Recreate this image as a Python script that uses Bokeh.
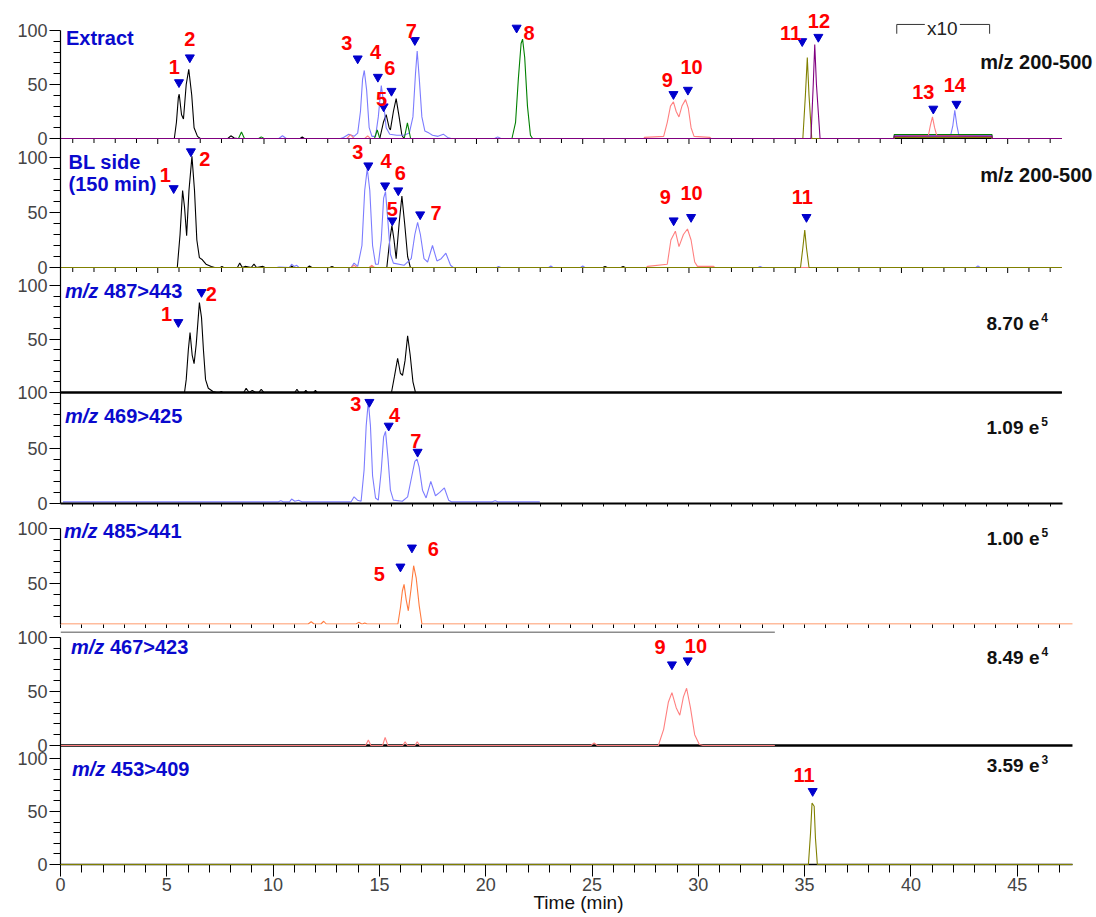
from bokeh.plotting import figure
from bokeh.layouts import column
from bokeh.models import Range1d, FixedTicker, CustomJSTickFormatter
from bokeh.core.properties import value
from bokeh.embed import file_html
from bokeh.resources import INLINE

# ----------------------------------------------------------------- data
TIME_TICKS = [0, 5, 10, 15, 20, 25, 30, 35, 40, 45]
TIME_MINOR = list(range(0, 48))
INT_TICKS = [0, 50, 100]
INT_MINOR = [10, 20, 30, 40, 60, 70, 80, 90]
T_MAX = 47.6

# Panel 1 : Extract (time [min], relative intensity [%])
EXT_BLACK = [(0.2, 0), (5.78, 0), (5.88, 15), (5.97, 38), (6.01, 41), (6.12, 22), (6.21, 18), (6.34, 50),
             (6.46, 64), (6.6, 40), (6.71, 10), (6.87, 2), (7.0, 0), (8.3, 0), (8.44, 2.5), (8.6, 0.5),
             (8.75, 0), (11.7, 0), (11.8, 1.5), (11.9, 0), (15.45, 0), (15.62, 15), (15.75, 22), (15.89, 10),
             (15.95, 8), (16.09, 25), (16.22, 37), (16.36, 20), (16.49, 3), (16.59, 0), (47.55, 0)]
EXT_BLUE = [(0.2, 0), (10.7, 0), (10.87, 2.5), (11.05, 0), (13.6, 0), (13.74, 1), (13.99, 4), (14.24, 2),
            (14.41, 5), (14.54, 25), (14.64, 55), (14.72, 63), (14.83, 45), (14.95, 10), (15.08, 2), (15.25, 2),
            (15.38, 20), (15.52, 49), (15.62, 35), (15.75, 10), (15.92, 4), (16.25, 3), (16.59, 3), (16.84, 5),
            (17.01, 20), (17.13, 60), (17.21, 81), (17.31, 55), (17.43, 20), (17.57, 7), (17.77, 5), (17.93, 3),
            (18.19, 2), (18.44, 4), (18.64, 1), (18.81, 0), (20.85, 0), (21.0, 1.5), (21.15, 0), (39.65, 0),
            (39.66, 2.5), (42.31, 2.5), (42.42, 12), (42.51, 26), (42.61, 12), (42.71, 2.5), (44.26, 2.5),
            (44.27, 0), (47.55, 0)]
EXT_GREEN = [(0.2, 0), (8.8, 0), (8.94, 6), (9.08, 0), (9.75, 0), (9.87, 1.5), (10.0, 0), (15.2, 0), (15.33, 8),
             (15.45, 0), (16.6, 0), (16.75, 14.5), (16.9, 0), (21.67, 0), (21.84, 15), (21.97, 55), (22.1, 88),
             (22.17, 92), (22.27, 75), (22.4, 30), (22.54, 3), (22.64, 0), (39.65, 0), (39.66, 3.7),
             (44.26, 3.7), (44.27, 0), (47.55, 0)]
EXT_SALMON = [(0.2, 0), (13.9, 0), (14.07, 3.5), (14.24, 0), (14.74, 0), (14.88, 2.5), (15.01, 0), (27.89, 0),
              (27.9, 1), (28.81, 2), (28.98, 15), (29.13, 30), (29.27, 34), (29.4, 25), (29.53, 20), (29.67, 30),
              (29.84, 36), (29.97, 28), (30.1, 10), (30.24, 2), (30.99, 1), (31.04, 0), (39.65, 0), (39.66, 1.5),
              (41.27, 3), (41.36, 12), (41.46, 20), (41.56, 10), (41.66, 3), (44.26, 1.5), (44.27, 0), (47.55, 0)]
EXT_OLIVE = [(0.2, 0), (35.36, 0), (35.48, 40), (35.57, 75), (35.65, 40), (35.78, 0), (39.65, 0), (39.66, 1),
             (44.26, 1), (44.27, 0), (47.55, 0)]
EXT_PURPLE = [(0.2, 0), (35.74, 0), (35.85, 50), (35.92, 87), (36.0, 50), (36.17, 0), (39.65, 0), (39.66, 2.2),
              (44.26, 2.2), (44.27, 0), (47.55, 0)]
EXT_PEAKS = [("1", 5.78, 66, 6.0, 52), ("2", 6.51, 92, 6.51, 75), ("3", 13.9, 88, 14.41, 74),
             ("4", 15.25, 80, 15.36, 57), ("5", 15.53, 37, 15.63, 29.6), ("6", 15.92, 65, 16.0, 44),
             ("7", 16.93, 100, 17.1, 91), ("8", 22.47, 98, 21.89, 102.5), ("9", 28.98, 54, 29.27, 41),
             ("10", 30.12, 66, 29.95, 45), ("11", 34.78, 98, 35.33, 90), ("12", 36.12, 108.6, 36.09, 94),
             ("13", 41.03, 43.5, 41.5, 27.5), ("14", 42.51, 50, 42.59, 32)]
X10_T = [39.78, 41.1, 42.75, 44.15]
X10_V = [97, 105.6]

# Panel 2 : BL side (150 min)
BL_BLACK = [(0.2, 0), (5.92, 0), (6.05, 30), (6.17, 70), (6.26, 55), (6.36, 29), (6.47, 70), (6.61, 101),
            (6.73, 70), (6.84, 25), (6.96, 9), (7.1, 7), (7.27, 3), (7.52, 1), (7.68, 0), (7.95, 0), (8.02, 1),
            (8.1, 0), (8.75, 0), (8.86, 4), (8.98, 0), (9.11, 1), (9.4, 0), (9.53, 3), (9.65, 0), (9.95, 1),
            (10.05, 0), (11.2, 0), (11.3, 1.5), (11.4, 0), (12.05, 0), (12.14, 1.5), (12.25, 0), (13.1, 0),
            (13.2, 1), (13.3, 0), (15.78, 0), (15.92, 25), (16.02, 38), (16.12, 25), (16.22, 8), (16.36, 40),
            (16.49, 65), (16.62, 40), (16.76, 10), (16.89, 0), (25.95, 0), (26.05, 1), (26.15, 0), (26.8, 0),
            (26.9, 1), (27.0, 0), (47.55, 0)]
BL_BLUE = [(0.2, 0), (10.6, 0), (10.71, 0.5), (11.2, 0), (11.3, 3), (11.42, 1), (11.54, 2), (11.65, 0),
           (14.1, 0), (14.24, 4), (14.41, 1), (14.61, 20), (14.74, 70), (14.86, 90), (14.98, 70), (15.11, 20),
           (15.25, 3), (15.38, 3), (15.52, 25), (15.63, 63), (15.72, 69), (15.84, 40), (15.95, 12), (16.09, 4),
           (16.59, 2), (16.93, 8), (17.1, 30), (17.23, 41), (17.36, 30), (17.53, 8), (17.7, 5), (17.93, 20),
           (18.14, 6), (18.34, 8), (18.56, 13), (18.78, 2), (18.91, 0), (20.95, 0), (21.04, 1), (21.15, 0),
           (23.4, 0), (23.5, 1.5), (23.6, 0), (24.9, 0), (25.0, 1.5), (25.1, 0), (33.25, 0), (33.35, 1),
           (33.45, 0), (43.5, 0), (43.6, 1.5), (43.7, 0), (47.55, 0)]
BL_SALMON = [(0.2, 0), (14.1, 0), (14.24, 2), (14.38, 0), (14.95, 0), (15.08, 2), (15.2, 0), (28.0, 0),
             (28.05, 1), (28.98, 3), (29.15, 25), (29.36, 33), (29.53, 19), (29.74, 30), (29.93, 35),
             (30.1, 25), (30.27, 5), (30.4, 1), (31.16, 1), (31.21, 0), (47.55, 0)]
BL_OLIVE = [(0.2, 0), (35.25, 0), (35.36, 18), (35.45, 34), (35.53, 18), (35.65, 0), (47.55, 0)]
BL_PEAKS = [("1", 5.36, 84, 5.75, 72), ("2", 7.21, 98.8, 6.56, 105.5), ("3", 14.41, 104.8, 14.91, 92.7),
            ("4", 15.75, 96.7, 15.7, 74.5), ("5", 16.04, 53.3, 16.04, 42.7), ("6", 16.42, 85.8, 16.32, 70),
            ("7", 18.1, 49.4, 17.35, 48.2), ("9", 28.89, 64, 29.28, 42.7), ("10", 30.12, 67.6, 30.1, 45.8),
            ("11", 35.33, 64, 35.53, 45.8)]

# Panel 3 : m/z 487>443
MRM487 = [(0.19, 0), (6.26, 0), (6.34, 12), (6.44, 40), (6.52, 56), (6.62, 35), (6.71, 27), (6.81, 45),
          (6.96, 84), (7.06, 70), (7.15, 40), (7.25, 12), (7.38, 4), (7.6, 1), (7.77, 0), (7.92, 0), (7.99, 1),
          (8.06, 0), (9.05, 0), (9.16, 4), (9.3, 0), (9.45, 2), (9.6, 0), (9.75, 0), (9.87, 3), (10.0, 0),
          (11.45, 0), (11.55, 3), (11.65, 0), (11.88, 0), (11.97, 2), (12.06, 0), (12.33, 0), (12.42, 2),
          (12.51, 0), (16.0, 0), (16.14, 15), (16.29, 32), (16.42, 18), (16.52, 16), (16.64, 30), (16.76, 53),
          (16.88, 35), (17.01, 10), (17.13, 0), (47.55, 0)]
MRM487_PEAKS = [("1", 5.41, 73.5, 5.97, 65.7), ("2", 7.52, 92.2, 7.06, 93.8)]

# Panel 4 : m/z 469>425
MRM469 = [(0.54, 1.5), (10.68, 1.5), (10.79, 2.5), (10.9, 1.5), (11.2, 1.5), (11.3, 4), (11.45, 2), (11.63, 3),
          (11.78, 1.5), (14.1, 1.5), (14.24, 6), (14.4, 3), (14.57, 2), (14.71, 30), (14.81, 70), (14.91, 92),
          (15.01, 70), (15.11, 25), (15.25, 5), (15.38, 3), (15.52, 30), (15.63, 60), (15.72, 65), (15.84, 40),
          (15.95, 12), (16.09, 3), (16.51, 2), (16.76, 6), (16.96, 25), (17.1, 38), (17.2, 40), (17.3, 33),
          (17.46, 12), (17.63, 5), (17.85, 20), (18.07, 7), (18.27, 10), (18.49, 14), (18.69, 3), (18.82, 1.5),
          (20.75, 1.5), (20.88, 2.5), (21.0, 1.5), (22.98, 1.5)]
MRM469_PEAKS = [("3", 14.32, 89.3, 14.96, 91.4), ("4", 16.14, 80.1, 15.87, 70), ("7", 17.15, 56.6, 17.23, 46.5)]

# Panel 5 : m/z 485>441
MRM485 = [(0, 13), (11.65, 13), (11.79, 15), (11.93, 13), (12.25, 13), (12.38, 15.5), (12.5, 13), (13.9, 13),
          (14.03, 14.5), (14.17, 13), (14.2, 13), (14.31, 14), (14.42, 13), (15.87, 13), (15.99, 28),
          (16.08, 43), (16.16, 49), (16.26, 35), (16.36, 25), (16.49, 45), (16.61, 66), (16.73, 55),
          (16.87, 30), (17.0, 13), (47.6, 13)]
MRM485_PEAKS = [("5", 14.99, 58.5, 15.99, 65.1), ("6", 17.54, 81.2, 16.53, 82.4)]

# Panel 6 : m/z 467>423
MRM467 = [(0, 0), (14.35, 0), (14.48, 5), (14.6, 0), (15.15, 0), (15.27, 7.5), (15.4, 0), (16.1, 0),
          (16.21, 3.5), (16.32, 0), (16.67, 0), (16.78, 3.5), (16.9, 0), (24.95, 0), (25.1, 2.5), (25.25, 0),
          (28.12, 0), (28.37, 15), (28.59, 40), (28.76, 49), (28.96, 35), (29.13, 28), (29.3, 45), (29.45, 53),
          (29.63, 35), (29.83, 10), (30.05, 1), (30.22, 0), (33.6, 0)]
MRM467_PEAKS = [("9", 28.2, 91, 28.76, 75), ("10", 29.89, 92, 29.5, 78.7)]
PANE6_EDGE = [(0, 104.9), (33.6, 104.9)]

# Panel 7 : m/z 453>409
MRM453 = [(0, 0), (35.18, 0), (35.28, 30), (35.35, 58), (35.45, 55), (35.51, 25), (35.6, 0), (47.6, 0)]
MRM453_PEAKS = [("11", 34.98, 84, 35.38, 69.2)]

SCAN_RANGE = "m/z 200-500"
SCALES = {"487": ("8.70 e", "4"), "469": ("1.09 e", "5"), "485": ("1.00 e", "5"),
          "467": ("8.49 e", "4"), "453": ("3.59 e", "3")}

# ----------------------------------------------------------------- style / layout
FONT = value("Liberation Sans")
BLUE_TXT = "#0A0ACD"
TRI = "#0000CC"
C_BLACK, C_BLUE, C_GREEN = "#000000", "#7C7CFF", "#008000"
C_SALMON, C_OLIVE, C_PURPLE, C_ORANGE = "#FF8080", "#808000", "#800080", "#FF7A3D"
LW = 1.1
W = 1096
LEFT = 60
# the upper four chromatograms were pasted ~9 px left of the lower three
XR_A = (0.4235, 49.18)
XR_B = (0.0, 48.73)


def xy(pairs):
    return [a for a, _ in pairs], [b for _, b in pairs]


def stack_fig(h, frame_top, frame_bottom, border_bottom, panels, main, xr):
    """Chromatograms stacked on one canvas; panels: name -> (px of 0 %, px of 100 %)."""
    def rng(z, hd):
        s = (z - hd) / 100.0
        return (-(frame_bottom - z) / s, (z - frame_top) / s)

    mz, mh = panels[main]
    ms = (mz - mh) / 100.0
    p = figure(width=W, height=h, x_range=Range1d(*xr), y_range=Range1d(*rng(mz, mh)),
               output_backend="svg", toolbar_location=None,
               min_border_left=LEFT, min_border_right=0, min_border_top=0,
               min_border_bottom=border_bottom)
    p.extra_y_ranges = {n: Range1d(*rng(*v)) for n, v in panels.items() if n != main}
    p.outline_line_color = None
    p.xgrid.visible = False
    p.ygrid.visible = False

    pos, lab, minor = [], [], []
    order = [main] + [n for n in panels if n != main]
    for n in order:
        z, hd = panels[n]
        s = (z - hd) / 100.0
        for v in INT_TICKS:
            m = (mz - (z - v * s)) / ms
            if not any(abs(m - q) < 0.5 for q in pos):
                pos.append(m)
                lab.append(str(v))
        for v in INT_MINOR:
            minor.append((mz - (z - v * s)) / ms)
    ya = p.yaxis[0]
    ya.ticker = FixedTicker(ticks=pos, minor_ticks=minor)
    ya.bounds = (min(pos), max(pos))
    ya.formatter = CustomJSTickFormatter(args=dict(pos=pos, lab=lab), code="""
        for (let i = 0; i < pos.length; i++) {
            if (Math.abs(pos[i] - tick) < 1e-3) { return lab[i]; }
        }
        return "";
    """)
    ya.major_tick_out = 11
    ya.major_tick_in = 0
    ya.minor_tick_out = 7
    ya.minor_tick_in = 0
    ya.major_label_text_font = "Liberation Sans"
    ya.major_label_text_font_size = "18px"
    ya.major_label_standoff = 2
    ya.axis_label_standoff = 0
    ya.axis_line_width = 1.2
    ya.major_tick_line_width = 1.2

    xa = p.xaxis[0]
    xa.ticker = FixedTicker(ticks=[], minor_ticks=TIME_MINOR)
    xa.bounds = (0, T_MAX)
    xa.major_tick_in = 0
    xa.minor_tick_in = 0
    xa.major_tick_out = 5
    xa.minor_tick_out = 5
    xa.major_label_standoff = 0
    xa.axis_label_standoff = 0
    return p


def time_ticks(p, name, scale, length_px):
    kw = {} if name is None else dict(y_range_name=name)
    p.segment(x0=TIME_MINOR, x1=TIME_MINOR, y0=[0] * len(TIME_MINOR),
              y1=[-(length_px + (1 if t % 5 == 0 else 0)) / scale for t in TIME_MINOR],
              line_color="black", line_width=1, **kw)


def trace(p, pairs, color, **kw):
    t, v = xy(pairs)
    p.line(t, v, line_color=color, line_width=LW, **kw)


def peaks(p, rows, **kw):
    p.scatter([r[3] for r in rows], [r[4] for r in rows], marker="inverted_triangle", size=9,
              fill_color=TRI, line_color=TRI, **kw)
    p.text([r[1] for r in rows], [r[2] for r in rows], text=[r[0] for r in rows], text_font=FONT,
           text_font_style="bold", text_font_size="20px", text_color="#FF0000",
           text_align="center", text_baseline="middle", **kw)


def title_txt(p, t, v, lines, **kw):
    p.text([t] * len(lines), v, text=lines, text_font=FONT, text_font_style="bold",
           text_font_size="20px", text_color=BLUE_TXT, text_align="left", text_baseline="middle", **kw)


def mrm_title(p, t, v, ion, **kw):
    p.text([t], [v], text=["m/z"], text_font=FONT, text_font_style="bold italic",
           text_font_size="20px", text_color=BLUE_TXT, text_align="left", text_baseline="middle", **kw)
    p.text([t], [v], text=[ion], x_offset=39, text_font=FONT, text_font_style="bold",
           text_font_size="20px", text_color=BLUE_TXT, text_align="left", text_baseline="middle", **kw)


def scale_txt(p, t, v, key, **kw):
    base, sup = SCALES[key]
    p.text([t], [v], text=[base], text_font=FONT, text_font_style="bold", text_font_size="19px",
           text_color="#111111", text_align="right", text_baseline="middle", **kw)
    p.text([t], [v], text=[sup], x_offset=2, y_offset=-6, text_font=FONT, text_font_style="bold",
           text_font_size="12px", text_color="#111111", text_align="left", text_baseline="middle", **kw)


def scan_txt(p, t, v, **kw):
    p.text([t], [v], text=[SCAN_RANGE], text_font=FONT, text_font_style="bold", text_font_size="20px",
           text_color="#111111", text_align="right", text_baseline="middle", **kw)


# ---------------- Canvas A : Extract, BL side, m/z 487>443, m/z 469>425
PANELS_A = {"m469": (503, 392), "ext": (138, 30), "bl": (267, 157), "m487": (392, 285)}
fa = stack_fig(515, 0, 503, 12, PANELS_A, "m469", XR_A)
xa = fa.xaxis[0]
xa.axis_line_width = 2.2
xa.minor_tick_out = 3
E = dict(y_range_name="ext")
B = dict(y_range_name="bl")
M3 = dict(y_range_name="m487")

time_ticks(fa, "ext", 1.08, 4.5)
for tr, c in [(EXT_BLACK, C_BLACK), (EXT_BLUE, C_BLUE), (EXT_GREEN, C_GREEN),
              (EXT_SALMON, C_SALMON), (EXT_OLIVE, C_OLIVE), (EXT_PURPLE, C_PURPLE)]:
    trace(fa, tr, c, **E)
fa.multi_line([[X10_T[0], X10_T[0], X10_T[1]], [X10_T[2], X10_T[3], X10_T[3]]],
              [[X10_V[0], X10_V[1], X10_V[1]], [X10_V[1], X10_V[1], X10_V[0]]],
              line_color="#333333", line_width=1, **E)
fa.text([(X10_T[1] + X10_T[2]) / 2], [102.3], text=["x10"], text_font=FONT, text_font_size="19px",
        text_color="#222222", text_align="center", text_baseline="middle", **E)
peaks(fa, EXT_PEAKS, **E)
title_txt(fa, 0.68, [93], ["Extract"], **E)
scan_txt(fa, 48.99, 70.6, **E)

time_ticks(fa, "bl", 1.10, 4.5)
for tr, c in [(BL_BLACK, C_BLACK), (BL_BLUE, C_BLUE), (BL_SALMON, C_SALMON), (BL_OLIVE, C_OLIVE)]:
    trace(fa, tr, c, **B)
peaks(fa, BL_PEAKS, **B)
title_txt(fa, 0.8, [95.7, 76], ["BL side", "(150 min)"], **B)
scan_txt(fa, 48.99, 84.5, **B)

t3, v3 = xy(MRM487)
fa.line(t3, v3, line_color=C_BLACK, line_width=LW, **M3)
fa.line([t3[0], t3[-1]], [0, 0], line_color=C_BLACK, line_width=2.5, **M3)
peaks(fa, MRM487_PEAKS, **M3)
mrm_title(fa, 0.63, 94.7, "487>443", **M3)
scale_txt(fa, 46.49, 64.2, "487", **M3)

trace(fa, MRM469, C_BLUE)
peaks(fa, MRM469_PEAKS)
mrm_title(fa, 0.63, 79.2, "469>425")
scale_txt(fa, 46.49, 68.7, "469")

# ---------------- Canvas B : m/z 485>441 (its trace sits on a raised baseline)
fb = stack_fig(113, 0, 109, 4, {"m485": (122.8, 12.8)}, "m485", XR_B)
fb.xaxis[0].axis_line_color = None
fb.xaxis[0].minor_tick_out = 4
trace(fb, MRM485, C_ORANGE)
peaks(fb, MRM485_PEAKS)
mrm_title(fb, 0.17, 97.8, "485>441")
scale_txt(fb, 46.05, 90.9, "485")

# ---------------- Canvas C : m/z 467>423 (upper) + m/z 453>409 (lower, time axis)
PANELS_C = {"m453": (236, 130), "m467": (117, 9)}
fc = stack_fig(289, 0, 236, 53, PANELS_C, "m453", XR_B)
xa = fc.xaxis[0]
xa.ticker = FixedTicker(ticks=TIME_TICKS, minor_ticks=TIME_MINOR)
xa.major_label_text_font = "Liberation Sans"
xa.major_label_text_font_size = "18px"
xa.major_label_standoff = 1
xa.major_tick_out = 12
xa.minor_tick_out = 8
xa.axis_line_width = 1.5
xa.axis_label = "Time (min)"
xa.axis_label_text_font = "Liberation Sans"
xa.axis_label_text_font_size = "19px"
xa.axis_label_text_font_style = "normal"
xa.axis_label_text_color = "#111111"
xa.axis_label_standoff = -2
M6 = dict(y_range_name="m467")

t6, v6 = xy(MRM467)
ex, ey = xy(PANE6_EDGE)
fc.line(ex, ey, line_color="#8C8C8C", line_width=1.5, **M6)
fc.line([0, T_MAX], [0, 0], line_color=C_BLACK, line_width=2.5, **M6)
fc.line(t6, v6, line_color=C_SALMON, line_width=LW, **M6)
peaks(fc, MRM467_PEAKS, **M6)
mrm_title(fc, 0.49, 91, "467>423", **M6)
scale_txt(fc, 46.05, 81.8, "467", **M6)

trace(fc, MRM453, C_OLIVE, level="overlay")
peaks(fc, MRM453_PEAKS)
mrm_title(fc, 0.54, 90.3, "453>409")
scale_txt(fc, 46.05, 93.4, "453")

layout = column(fa, fb, fc, spacing=0)
open("out.html", "w").write(file_html(layout, INLINE))
